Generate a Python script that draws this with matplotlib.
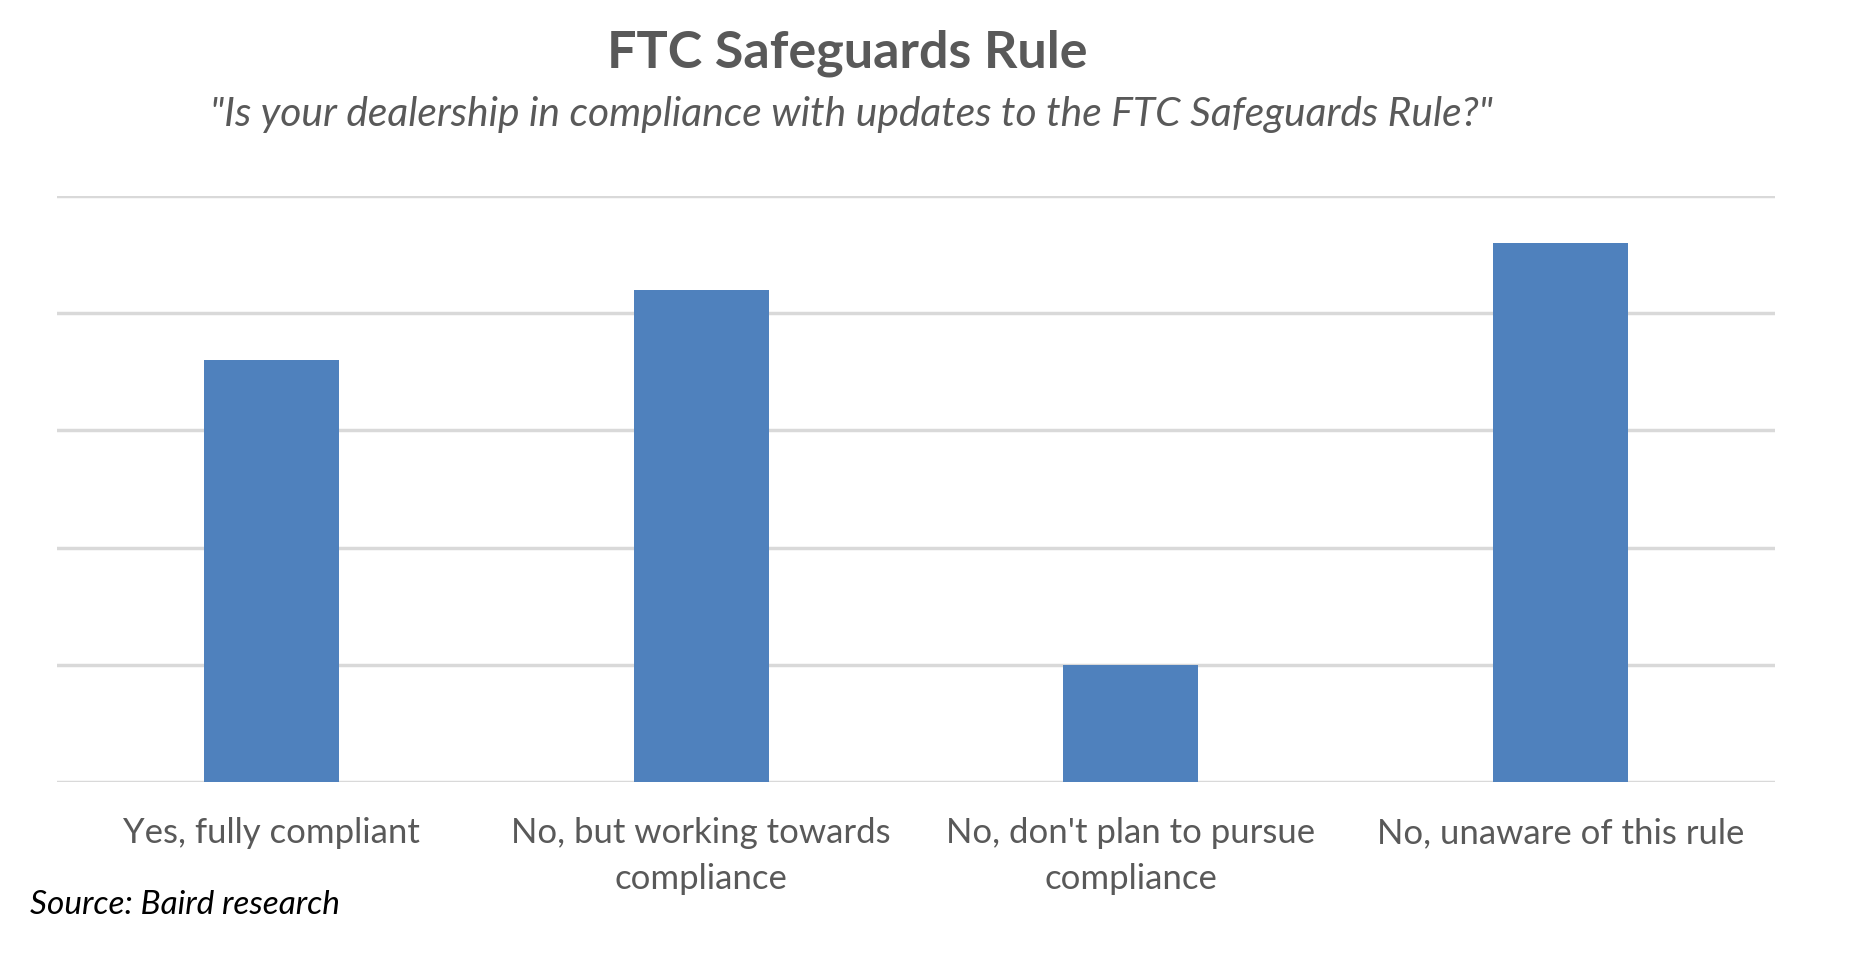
import matplotlib
matplotlib.use("Agg")
import matplotlib.pyplot as plt

categories = ["Yes, fully compliant",
              "No, but working towards\ncompliance",
              "No, don't plan to pursue\ncompliance",
              "No, unaware of this rule"]
values = [3.6, 4.2, 1.0, 4.6]
grid_levels = [0, 1, 2, 3, 4, 5]

title = "FTC Safeguards Rule"
subtitle = '"Is your dealership in compliance with updates to the FTC Safeguards Rule?"'
source = "Source: Baird research"

plt.rcParams['font.family'] = ['Lato', 'DejaVu Sans']
text_grey = "#595959"

fig = plt.figure(figsize=(18.59, 9.58), dpi=100)
ax = fig.add_axes([0.0306, 0.1832, 0.9242, 0.6126])

x = range(len(categories))
ax.bar(x, values, width=0.315, color="#4F81BD", zorder=3)
for g in grid_levels:
    ax.axhline(g, color="#D9D9D9", linewidth=2.5, zorder=1)

ax.set_xlim(-0.5, len(categories) - 0.5)
ax.set_ylim(0, 5)
ax.set_xticks(list(x))
ax.set_xticklabels(categories, fontsize=25, color=text_grey, linespacing=1.52)
ax.tick_params(axis="x", length=0, pad=25)
ax.set_yticks([])
for s in ax.spines.values():
    s.set_visible(False)

fig.text(0.456, 0.944, title, ha="center", va="center", fontsize=37.5,
         fontweight="bold", color=text_grey)
fig.text(0.458, 0.88, subtitle, ha="center", va="center", fontsize=29.3,
         style="italic", color=text_grey)
fig.text(0.016, 0.0557, source, ha="left", va="center", fontsize=24,
         style="italic", color="black")

fig.savefig("out.png", dpi=100)
